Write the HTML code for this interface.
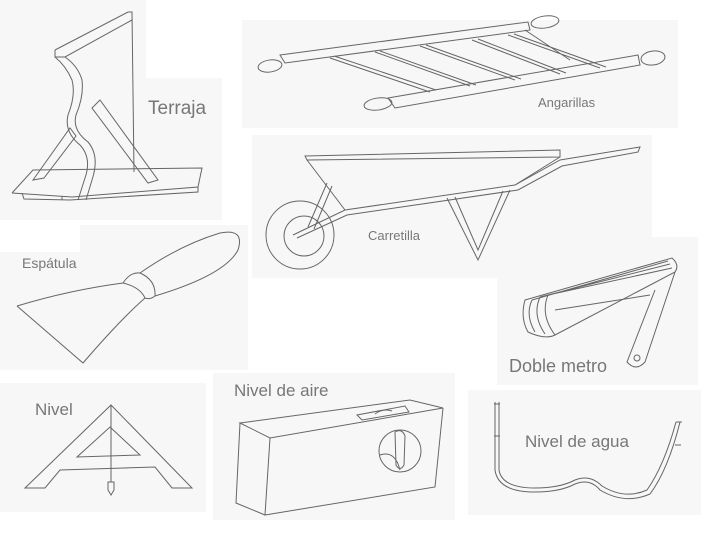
<!DOCTYPE html>
<html><head><meta charset="utf-8"><style>
body{margin:0;background:#fff;width:720px;height:540px;overflow:hidden}
svg{display:block}
text{font-family:"Liberation Sans",sans-serif;fill:#777}
</style></head><body>
<svg width="720" height="540" viewBox="0 0 720 540">
<g fill="#f7f7f7">
<rect x="0" y="0" width="146" height="80"/>
<rect x="0" y="78" width="222" height="142"/>
<rect x="242" y="20" width="436" height="108"/>
<rect x="252" y="135" width="400" height="143"/>
<rect x="80" y="225" width="168" height="145"/>
<rect x="0" y="252" width="248" height="118"/>
<rect x="497" y="237" width="201" height="148"/>
<rect x="0" y="383" width="206" height="129"/>
<rect x="213" y="373" width="242" height="147"/>
<rect x="468" y="390" width="233" height="125"/>
</g>
<g fill="none" stroke="#666" stroke-width="1">
<!-- Terraja -->
<path d="M55,50 L128,12 L132,12 L134,172 M55,50 L55,57 L65,57 L132,20"/>
<path d="M55,57 Q66,66 72,80 Q76,95 68,115 Q64,132 80,145 Q92,158 85,178 L78,200"/>
<path d="M65,57 Q78,66 82,80 Q84,96 76,115 Q72,130 88,142 Q100,156 92,180 L86,200"/>
<path d="M33,180 L70,128 L76,136 L44,178 Z"/>
<path d="M92,108 L100,100 L158,180 L148,183 Z"/>
<path d="M12,193 L33,170 L202,168 L198,187 L72,197 L12,193 M22,193 L24,199 L70,200 L198,192 L198,187 M62,196 L62,200"/>
<!-- Angarillas -->
<path d="M280,55 L528,22 L530,30 L285,63 Z"/>
<path d="M388,98 L638,55 L640,65 L395,108 Z"/>
<ellipse cx="270" cy="66" rx="12" ry="6" transform="rotate(-8 270 66)"/>
<ellipse cx="545" cy="22" rx="14" ry="6" transform="rotate(-8 545 22)"/>
<ellipse cx="378" cy="104" rx="14" ry="6" transform="rotate(-8 378 104)"/>
<ellipse cx="653" cy="58" rx="12" ry="7" transform="rotate(-8 653 58)"/>
<path d="M330,58 L430,92 M334,56 L436,90 M375,52 L470,86 M380,51 L476,85 M420,46 L515,80 M426,45 L521,79 M472,40 L560,74 M478,39 L566,73 M508,35 L600,68 M514,34 L606,67 M525,30 L570,60"/>
<!-- Carretilla -->
<path d="M305,156 L560,150 L560,157 L307,160 Z"/>
<path d="M307,160 L345,210 M560,157 L515,185"/>
<path d="M293,235 L345,210 L515,185 L560,160 L640,147 L638,152 L562,166 L518,190 L347,215 L297,238"/>
<circle cx="300" cy="235" r="34"/>
<circle cx="304" cy="236" r="20"/>
<path d="M308,227 L327,183 M314,229 L332,186"/>
<path d="M447,198 L478,260 L510,190 M455,197 L478,250 L503,191"/>
<!-- Espatula -->
<path d="M17,306 Q70,290 123,283 M17,306 L83,363 Q120,320 145,298"/>
<path d="M123,283 Q130,272 140,273 Q156,280 155,296 Q150,300 145,298 Q140,287 123,283"/>
<path d="M140,273 Q180,245 220,233 Q245,228 238,250 Q225,275 155,296"/>
<!-- Doble metro -->
<path d="M525,300 L672,258 Q680,265 675,272 L555,335 Q545,340 528,332 Q520,318 525,300 Z"/>
<path d="M532,300 Q525,315 535,332 M540,297 Q532,315 545,334 M548,295 Q540,315 555,335 M532,300 L668,261 M540,297 L670,264 M548,295 L672,268 M555,310 L650,295"/>
<path d="M675,272 L645,362 Q636,372 627,362 L655,290"/>
<circle cx="637" cy="358" r="3"/>
<!-- Nivel -->
<path d="M25,488 L111,405 L192,488 L172,488 L155,467 L60,470 L45,488 Z"/>
<path d="M110,427 L140,455 L77,457 Z"/>
<path d="M111,405 L111,482 M108,482 L114,482 L114,490 L111,495 L108,490 Z"/>
<!-- Nivel de aire -->
<path d="M240,423 L410,400 L443,408 L270,438 Z"/>
<path d="M270,438 L265,515 L435,487 L443,408"/>
<path d="M240,423 L236,503 L265,515"/>
<path d="M357,415 L405,406 L409,412 L362,420 Z M375,414 Q383,408 392,411"/>
<circle cx="400" cy="451" r="21"/>
<path d="M395,432 Q402,428 405,436 L404,465 Q400,472 396,465 Z M380,455 Q395,450 400,470"/>
<!-- Nivel de agua -->
<path d="M495,402 L495,470 Q498,492 535,492 Q560,492 575,484 Q590,478 600,490 Q625,505 650,494 Q668,470 680,422"/>
<path d="M499,402 L499,470 Q502,488 535,488 Q560,488 575,480 Q590,474 602,486 Q625,500 647,490 Q664,466 676,422"/>
<path d="M494,404 L500,404 M494,436 L500,436 M676,422 L682,422 M675,445 L681,445"/>
</g>
<text x="148" y="114" font-size="19">Terraja</text>
<text x="538" y="107" font-size="13">Angarillas</text>
<text x="368" y="240" font-size="13">Carretilla</text>
<text x="22" y="268" font-size="14">Espátula</text>
<text x="509" y="372" font-size="18">Doble metro</text>
<text x="35" y="415" font-size="17">Nivel</text>
<text x="234" y="396" font-size="17">Nivel de aire</text>
<text x="525" y="447" font-size="17">Nivel de agua</text>
</svg>
</body></html>
